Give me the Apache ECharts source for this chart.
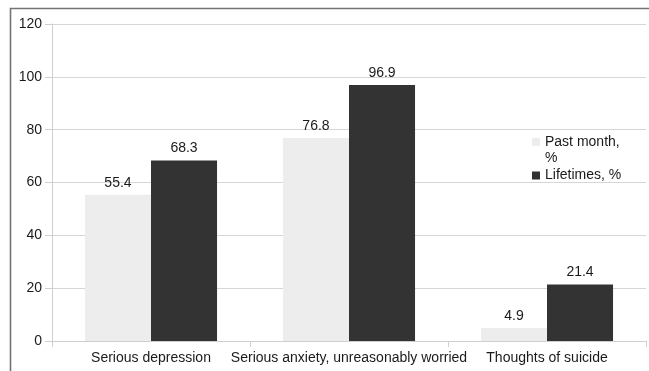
<!DOCTYPE html>
<html>
<head>
<meta charset="utf-8">
<script src="https://cdn.jsdelivr.net/npm/echarts@6/dist/echarts.min.js"></script>
<style>
  html, body { margin: 0; padding: 0; background: #ffffff; }
  #chart { width: 649px; height: 371px; }
</style>
</head>
<body>
<div id="chart"></div>
<script>
// Survey categories and percentages
const categories = ['Serious depression', 'Serious anxiety, unreasonably worried', 'Thoughts of suicide'];
const pastMonth = [55.4, 76.8, 4.9];
const lifetimes = [68.3, 96.9, 21.4];
const seriesNames = ['Past month, %', 'Lifetimes, %'];
const yTicks = { min: 0, max: 120, interval: 20 };

const FONT = '"Liberation Sans", Arial, sans-serif';
const TEXT = '#1a1a1a';
const chart = echarts.init(document.getElementById('chart'), null, { renderer: 'canvas' });

const valueLabel = {
  show: true,
  position: 'top',
  distance: 5,
  color: TEXT,
  fontSize: 14,
  fontFamily: FONT
};

chart.setOption({
  animation: false,
  backgroundColor: '#ffffff',
  grid: { left: 52, right: 3, top: 24, bottom: 30, containLabel: false },
  graphic: [{
    type: 'rect',
    z: -10,
    silent: true,
    shape: { x: 10.5, y: 8.5, width: 700, height: 400 },
    style: { fill: 'none', stroke: '#747474', lineWidth: 1.6 }
  }],
  legend: [{
    data: [seriesNames[0]],
    orient: 'vertical',
    left: 532,
    top: 118,
    padding: 0,
    itemWidth: 8,
    itemHeight: 8,
    icon: 'rect',
    // leading blank line keeps the swatch level with the first text line
    formatter: () => '\nPast month,\n%',
    textStyle: { fontSize: 14, lineHeight: 16, color: TEXT, fontFamily: FONT }
  }, {
    data: [seriesNames[1]],
    orient: 'vertical',
    left: 532,
    top: 168,
    padding: 0,
    itemWidth: 8,
    itemHeight: 8,
    icon: 'rect',
    textStyle: { fontSize: 14, lineHeight: 15, color: TEXT, fontFamily: FONT }
  }],
  xAxis: {
    type: 'category',
    data: categories,
    boundaryGap: true,
    axisLine: { show: true, lineStyle: { color: '#cfcfcf', width: 1 } },
    axisTick: { show: true, length: 6, lineStyle: { color: '#cfcfcf' } },
    axisLabel: { color: TEXT, fontSize: 14, fontFamily: FONT, margin: 10, interval: 0 }
  },
  yAxis: {
    type: 'value',
    min: yTicks.min,
    max: yTicks.max,
    interval: yTicks.interval,
    axisLine: { show: true, lineStyle: { color: '#cfcfcf', width: 1 } },
    axisTick: { show: true, length: 7, lineStyle: { color: '#cfcfcf' } },
    axisLabel: { color: TEXT, fontSize: 14, fontFamily: FONT, margin: 10 },
    splitLine: { show: true, lineStyle: { color: '#d6d6d6', width: 1 } }
  },
  series: [{
    name: seriesNames[0],
    type: 'bar',
    data: pastMonth,
    barGap: '0%',
    barCategoryGap: '33.3%',
    itemStyle: { color: '#ededed' },
    label: valueLabel
  }, {
    name: seriesNames[1],
    type: 'bar',
    data: lifetimes,
    barGap: '0%',
    barCategoryGap: '33.3%',
    itemStyle: { color: '#333333' },
    label: valueLabel
  }]
});
</script>
</body>
</html>
